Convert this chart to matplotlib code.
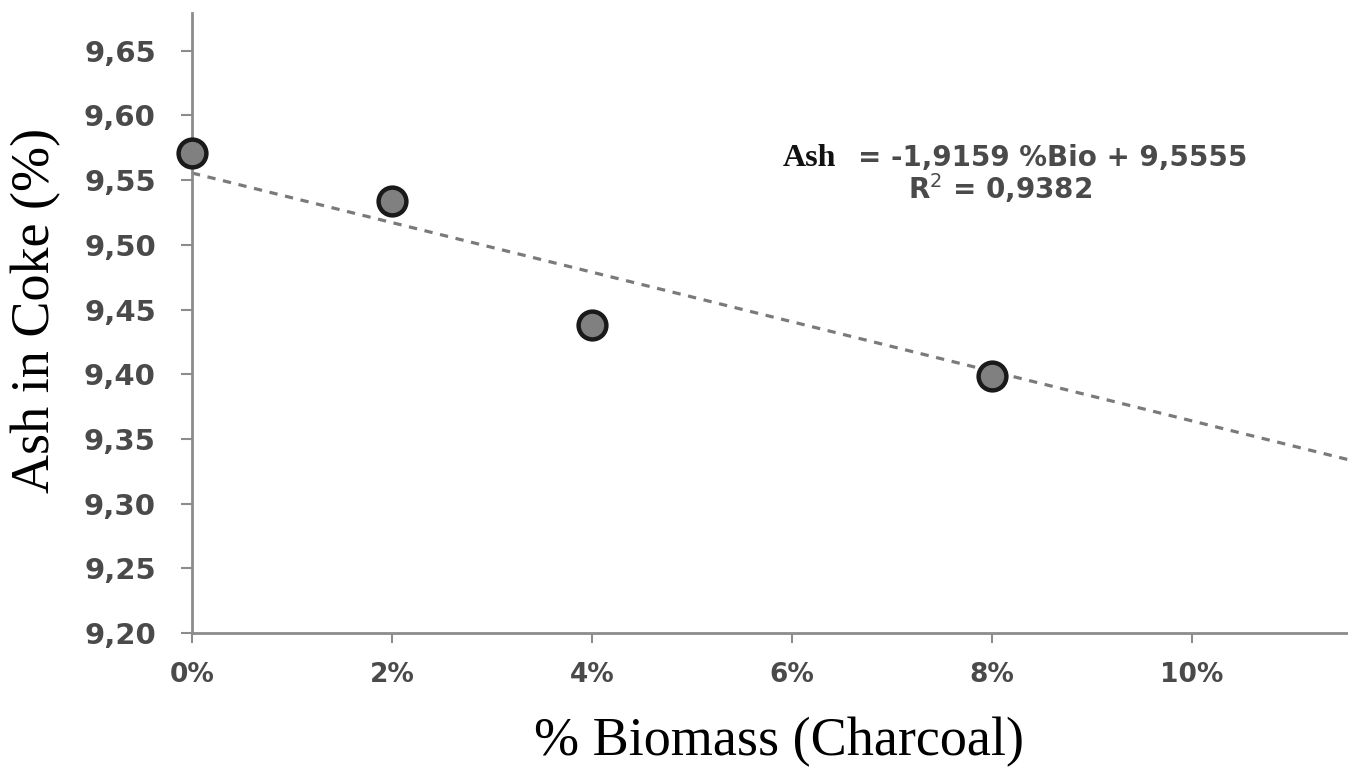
import numpy as np
import matplotlib
matplotlib.use("Agg")
import matplotlib.pyplot as plt

# data
biomass = [0.0, 0.02, 0.04, 0.08]
ash = [9.571, 9.534, 9.438, 9.399]

# trendline as printed on the chart
slope = -1.9159
intercept = 9.5555
r2_text = "0,9382"

xticks = [0.0, 0.02, 0.04, 0.06, 0.08, 0.10]
xtick_labels = ["0%", "2%", "4%", "6%", "8%", "10%"]
yticks = [9.20, 9.25, 9.30, 9.35, 9.40, 9.45, 9.50, 9.55, 9.60, 9.65]
ytick_labels = ["9,20", "9,25", "9,30", "9,35", "9,40", "9,45", "9,50", "9,55", "9,60", "9,65"]

fig = plt.figure(figsize=(13.48, 7.75), dpi=100)
ax = fig.add_axes([0.1424, 0.1832, 0.8576, 0.7998])

xmax = 0.1156
ax.set_xlim(0, xmax)
ax.set_ylim(9.20, 9.679)

xs = np.array([0, xmax])
ax.plot(xs, slope * xs + intercept, color="#7a7a7a", lw=2.3,
        dashes=(2.6, 2.4), zorder=2, clip_on=False)

ax.plot(biomass, ash, "o", ms=20, mfc="#808080", mec="#1a1a1a", mew=3.2,
        zorder=3, clip_on=False)

ax.set_xticks(xticks)
ax.set_xticklabels(xtick_labels)
ax.set_yticks(yticks)
ax.set_yticklabels(ytick_labels)

for s in ["top", "right"]:
    ax.spines[s].set_visible(False)
for s in ["left", "bottom"]:
    ax.spines[s].set_color("#8c8c8c")
    ax.spines[s].set_linewidth(2)

ax.tick_params(axis="y", direction="out", length=8, width=1.5, color="#8c8c8c",
               labelsize=21, labelcolor="#4a4a4a", pad=18)
ax.tick_params(axis="x", direction="out", length=7, width=1.5, color="#8c8c8c",
               labelsize=19, labelcolor="#4a4a4a", pad=14)
for lab in ax.get_xticklabels() + ax.get_yticklabels():
    lab.set_fontweight("bold")

ax.set_xlabel("% Biomass (Charcoal)", family="Liberation Serif", fontsize=39)
ax.set_ylabel("Ash in Coke (%)", family="Liberation Serif", fontsize=39)
ax.yaxis.set_label_coords(-0.113, 0.52)
ax.xaxis.set_label_coords(0.508, -0.135)

ax.text(0.0591, 9.5667, "Ash", family="Liberation Serif", fontweight="bold",
        fontsize=23, va="center", ha="left", color="#111111")
ax.text(0.0666, 9.5667, "= -1,9159 %Bio + 9,5555", fontsize=20, va="center",
        ha="left", color="#4a4a4a", fontweight="bold")
ax.text(0.0808, 9.5440, "R$^2$ = " + r2_text, fontsize=20, va="center",
        ha="center", color="#4a4a4a", fontweight="bold")

fig.savefig("out.png", dpi=100)
